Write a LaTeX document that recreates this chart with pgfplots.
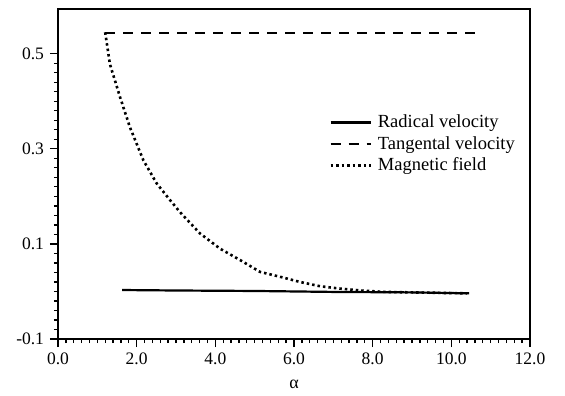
\documentclass[border=0pt]{standalone}
\usepackage{fontspec}
\setmainfont{Liberation Serif}
\usepackage{pgfplots}
\pgfplotsset{compat=1.18}
\begin{document}
\fontsize{17.5}{21}\selectfont
\begin{tikzpicture}
\begin{axis}[
  name=ax,
  scale only axis,
  width=472pt, height=330pt,
  xmin=0, xmax=12, ymin=-0.1, ymax=0.594,
  xtick={0,2,4,6,8,10,12},
  ytick={-0.1,0.1,0.3,0.5},
  minor x tick num=9,
  minor y tick num=9,
  xticklabel style={/pgf/number format/.cd,fixed,fixed zerofill,precision=1},
  yticklabel style={/pgf/number format/.cd,fixed,fixed zerofill,precision=1},
  /pgf/number format/assume math mode=true,
  tick align=outside,
  xtick pos=bottom, ytick pos=left,
  major tick length=8pt, minor tick length=4pt,
  every tick/.style={black, line width=1.3pt},
  axis line style={line width=2.2pt},
  xlabel={α},
  xlabel style={yshift=-3pt},
  tick label style={font=\fontsize{17.5}{21}\selectfont},
  label style={font=\fontsize{18}{21}\selectfont},
  legend style={at={(0.568,0.692)}, anchor=north west, draw=none, fill=none,
    font=\fontsize{18.5}{21}\selectfont, row sep=2pt,
    nodes={inner sep=2pt}},
  legend cell align=left,
  legend image code/.code={\draw[#1] (0pt,0pt) -- (40pt,0pt); \path (44pt,0pt);},
]
\addplot[black, line width=2.2pt] coordinates {
 (1.63,0.003) (3,0.002) (5,0.001) (7,-0.001) (9,-0.002) (10.45,-0.004)};
\addlegendentry{Radical velocity}
\addplot[black, line width=1.9pt, dash pattern=on 10pt off 8pt] coordinates {
 (1.2,0.544) (10.6,0.544)};
\addlegendentry{Tangental velocity}
\addplot[black, line width=2.6pt, dash pattern=on 2.5pt off 3pt] coordinates {
 (1.2,0.545) (1.32,0.478) (1.58,0.408) (1.83,0.345) (2.17,0.276) (2.51,0.227)
 (2.85,0.192) (3.10,0.167) (3.61,0.122) (4.12,0.090) (4.63,0.066) (5.14,0.041)
 (5.64,0.031) (6.15,0.020) (6.66,0.011) (7.17,0.006) (7.7,0.002) (8.3,-0.001)
 (9.0,-0.002) (10.4,-0.004)};
\addlegendentry{Magnetic field}
\end{axis}
\path (ax.south west) ++(-58pt,-57pt) coordinate (bl);
\path (ax.north east) ++(35pt,9pt) coordinate (tr);
\path (bl) rectangle (tr);
\end{tikzpicture}
\end{document}
